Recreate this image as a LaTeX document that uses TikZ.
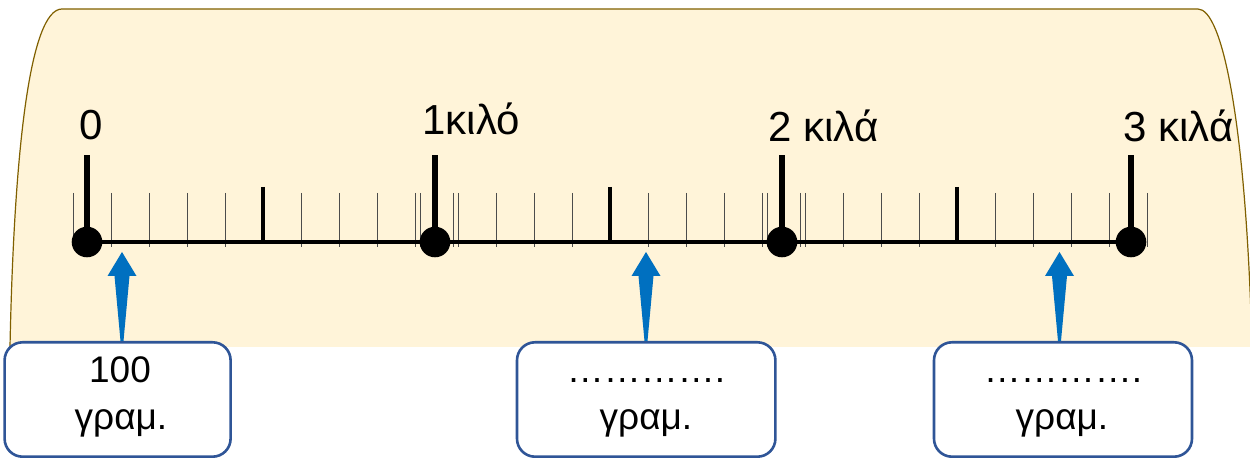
\documentclass[tikz,border=0pt]{standalone}
\usepackage{fontspec}
\setmainfont{Liberation Sans}
\usetikzlibrary{calc}
\definecolor{paper}{HTML}{FFF4D9}
\definecolor{paperline}{HTML}{806000}
\definecolor{boxline}{HTML}{2F5597}
\definecolor{arrowblue}{HTML}{0070C0}
\newcommand\upArrow[2]{%
  \fill[arrowblue] ($(#1 |- #2.north)+(1.5,0)$) -- ($(#1)+(7.5,24)$) -- ($(#1)+(14.5,24)$) -- (#1)
    -- ($(#1)+(-14.5,24)$) -- ($(#1)+(-7.5,24)$) -- ($(#1 |- #2.north)+(-1.5,0)$) -- cycle;}
\begin{document}
\begin{tikzpicture}[x=0.5pt,y=-0.5pt,
  bigtick/.style={line width=2.75pt},
  halftick/.style={line width=2.25pt},
  smalltick/.style={line width=0.55pt, black!70},
  dot/.style={circle, fill=black, inner sep=0pt, minimum size=15.3pt},
  lab/.style={font=\fontsize{21}{25}\selectfont, inner sep=0pt, anchor=base west},
  answer/.style={draw=boxline, line width=1.3pt, rounded corners=9pt, fill=white, minimum height=57.2pt},
  boxtxt/.style={font=\fontsize{18.5}{22}\selectfont, inner sep=0pt, anchor=base},
]
\clip (0,0) rectangle (1250,459);
% paper
\fill[paper] (10,347) .. controls (14,150) and (30,9) .. (62,9) -- (1198,9)
  .. controls (1222,9) and (1246,120) .. (1252,347) -- cycle;
\draw[paperline, line width=0.6pt] (10,347) .. controls (14,150) and (30,9) .. (62,9) -- (1198,9)
  .. controls (1222,9) and (1246,120) .. (1252,347);
% small ticks
\foreach \s in {73.3,420.7,767.7}{
  \foreach \k in {0,...,10}{
    \ifnum\k=5\relax\else
      \draw[smalltick] ({\s+38*\k},193) -- ({\s+38*\k},247);
    \fi}}
% half ticks
\foreach \x in {263,610,957}{
  \draw[halftick] (\x,187) -- (\x,242);}
% dots
\node[dot] (d0) at (87,242) {};
\node[dot] (d1) at (435,242) {};
\node[dot] (d2) at (782,242) {};
\node[dot] (d3) at (1131,242) {};
\draw[line width=2.25pt] (d0.center) -- (d3.center);
\foreach \d in {d0,d1,d2,d3}{
  \draw[bigtick] (\d.center) -- ++(0,-87);}
% labels
\node[lab] (l0) at (79,140) {0};
\node[lab] (l1) at (422,135) {1κιλό};
\node[lab] (l2) at (768,141.5) {2 κιλά};
\node[lab] (l3) at (1123,141.5) {3 κιλά};
% boxes
\node[answer, minimum width=113pt] (b1) at (117.6,399.5) {};
\node[answer, minimum width=129.2pt] (b2) at (646.2,399.5) {};
\node[answer, minimum width=129pt] (b3) at (1063,399.5) {};
\node[boxtxt] (t1a) at (120,383) {100};
\node[boxtxt] (t1b) at (121,430) {γραμ.};
\node[boxtxt] (t2a) at (646,383) {………….};
\node[boxtxt] (t2b) at (646,430) {γραμ.};
\node[boxtxt] (t3a) at (1063,383) {………….};
\node[boxtxt] (t3b) at (1062,430) {γραμ.};
% arrows
\coordinate (a1) at (122,252);
\coordinate (a2) at (646,252);
\coordinate (a3) at (1059.5,252);
\upArrow{a1}{b1}
\upArrow{a2}{b2}
\upArrow{a3}{b3}
\end{tikzpicture}
\end{document}
